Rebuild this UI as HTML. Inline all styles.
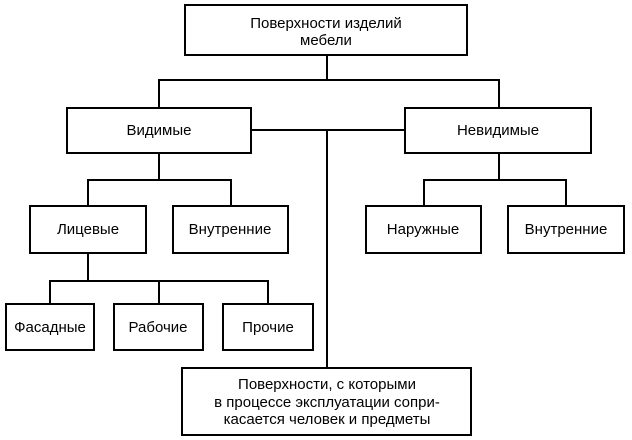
<!DOCTYPE html>
<html>
<head>
<meta charset="utf-8">
<style>
  html,body{margin:0;padding:0;background:#fff;}
  svg{display:block;}
  text{font-family:"Liberation Sans", Arial, sans-serif;font-size:15px;fill:#000;text-anchor:middle;}
</style>
</head>
<body>
<svg width="632" height="440" viewBox="0 0 632 440" xmlns="http://www.w3.org/2000/svg">
  <g fill="#fff" stroke="#000" stroke-width="2">
    <rect x="185" y="5" width="282" height="50"/>
    <rect x="67" y="108" width="184" height="45"/>
    <rect x="405" y="108" width="186" height="45"/>
    <rect x="30" y="206" width="116" height="47"/>
    <rect x="173" y="206" width="115" height="47"/>
    <rect x="366" y="206" width="115" height="47"/>
    <rect x="508" y="206" width="116" height="47"/>
    <rect x="6" y="304" width="88" height="46"/>
    <rect x="114" y="304" width="89" height="46"/>
    <rect x="223" y="304" width="90" height="46"/>
    <rect x="182" y="368" width="289" height="67"/>
  </g>
  <g stroke="#000" stroke-width="2" fill="none">
    <line x1="327" y1="56" x2="327" y2="80"/>
    <line x1="158" y1="80" x2="500" y2="80"/>
    <line x1="159" y1="80" x2="159" y2="107"/>
    <line x1="499" y1="80" x2="499" y2="107"/>
    <line x1="252" y1="130" x2="404" y2="130"/>
    <line x1="327" y1="130" x2="327" y2="367"/>
    <line x1="159" y1="154" x2="159" y2="180"/>
    <line x1="87" y1="180" x2="232" y2="180"/>
    <line x1="88" y1="180" x2="88" y2="205"/>
    <line x1="231" y1="180" x2="231" y2="205"/>
    <line x1="499" y1="154" x2="499" y2="180"/>
    <line x1="423" y1="180" x2="567" y2="180"/>
    <line x1="424" y1="180" x2="424" y2="205"/>
    <line x1="566" y1="180" x2="566" y2="205"/>
    <line x1="88" y1="254" x2="88" y2="281"/>
    <line x1="49" y1="281" x2="269" y2="281"/>
    <line x1="50" y1="281" x2="50" y2="303"/>
    <line x1="159" y1="281" x2="159" y2="303"/>
    <line x1="268" y1="281" x2="268" y2="303"/>
  </g>
  <text x="326" y="28">Поверхности изделий</text>
  <text x="326" y="45">мебели</text>
  <text x="159" y="135">Видимые</text>
  <text x="498" y="135">Невидимые</text>
  <text x="88" y="234">Лицевые</text>
  <text x="230" y="234">Внутренние</text>
  <text x="423" y="234">Наружные</text>
  <text x="566" y="234">Внутренние</text>
  <text x="50" y="332">Фасадные</text>
  <text x="158" y="332">Рабочие</text>
  <text x="268" y="332">Прочие</text>
  <text x="327" y="389">Поверхности, с которыми</text>
  <text x="327" y="407">в процессе эксплуатации сопри-</text>
  <text x="327" y="424">касается человек и предметы</text>
</svg>
</body>
</html>
